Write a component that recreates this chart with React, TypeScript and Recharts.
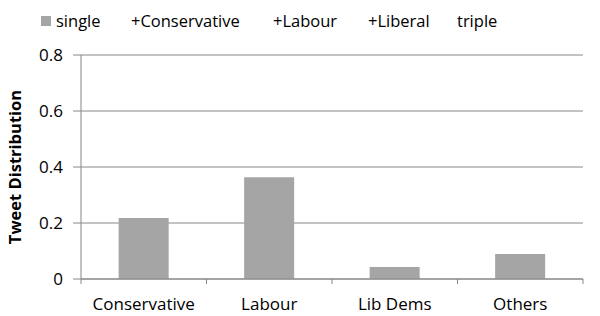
import { BarChart, Bar, XAxis, YAxis, CartesianGrid } from "recharts";

const parties = ["Conservative", "Labour", "Lib Dems", "Others"];
const singleValues = [0.218, 0.363, 0.043, 0.089];
const legendNames = ["single", "+Conservative", "+Labour", "+Liberal", "triple"];
const yTicks = [0, 0.2, 0.4, 0.6, 0.8];

const data = parties.map((party, i) => ({ party, single: singleValues[i] }));

const W = 600;
const H = 316;
const LEFT = 81;
const RIGHT = 17;
const FONT = "'Open Sans', sans-serif";
const AXIS = "#868686";
const BAR = "#a5a5a5";

const bandWidth = (W - LEFT - RIGHT) / parties.length;

function PartyTick(props: any) {
  const { x, y, payload, index } = props;
  return (
    <g>
      <line x1={x - bandWidth / 2} x2={x - bandWidth / 2} y1={y - 8} y2={y - 3} stroke={AXIS} />
      {index === parties.length - 1 && (
        <line x1={x + bandWidth / 2} x2={x + bandWidth / 2} y1={y - 8} y2={y - 3} stroke={AXIS} />
      )}
      <text x={x} y={y + 23} textAnchor="middle" fontSize={17} fill="#000" fontFamily={FONT}>
        {payload.value}
      </text>
    </g>
  );
}

const legendX = [41, 131, 273, 368, 457];

export default function App() {
  return (
    <div style={{ position: "absolute", left: 0, top: 0, width: W, height: H, background: "#fff" }}>
      <div style={{ position: "absolute", left: 0, top: 0, width: W, height: 45, fontFamily: FONT, fontSize: 16.5, color: "#000" }}>
        {legendNames.map((name, i) => (
          <div key={name} style={{ position: "absolute", left: legendX[i], top: 9, display: "flex", alignItems: "center", whiteSpace: "nowrap" }}>
            {i === 0 && <span style={{ display: "inline-block", width: 10, height: 10, background: BAR, marginRight: 5 }} />}
            {name}
          </div>
        ))}
      </div>
      <BarChart
        width={W}
        height={H}
        data={data}
        margin={{ top: 55, right: RIGHT, bottom: 0, left: 0 }}
        barCategoryGap="30%"
      >
        <CartesianGrid horizontal vertical={false} stroke={AXIS} strokeWidth={1} />
        <XAxis
          dataKey="party"
          height={37}
          stroke={AXIS}
          tickLine={false}
          interval={0}
          tick={<PartyTick />}
        />
        <YAxis
          width={LEFT}
          domain={[0, 0.8]}
          ticks={yTicks}
          stroke={AXIS}
          tickSize={8}
          tickMargin={10}
          tick={{ fill: "#000", fontSize: 17, fontFamily: FONT }}
          label={{
            value: "Tweet Distribution",
            angle: -90,
            position: "insideLeft",
            dx: 10,
            dy: 0,
            style: { textAnchor: "middle", fontWeight: "bold", fontSize: 16.5, fill: "#000", fontFamily: FONT },
          }}
        />
        <Bar dataKey="single" fill={BAR} isAnimationActive={false} />
      </BarChart>
    </div>
  );
}
